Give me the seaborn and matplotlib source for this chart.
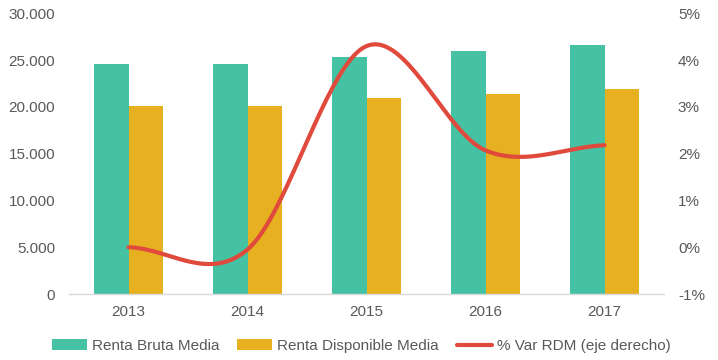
import numpy as np
import pandas as pd
import matplotlib
matplotlib.use("Agg")
import matplotlib.pyplot as plt
from matplotlib.ticker import FuncFormatter, FixedLocator
from matplotlib.patches import Patch
from matplotlib.lines import Line2D
import seaborn as sns

# datos
years = ["2013", "2014", "2015", "2016", "2017"]
renta_bruta = [24600, 24600, 25350, 25970, 26650]
renta_disponible = [20100, 20100, 20950, 21380, 21910]
var_rdm = [0.0, -0.05, 4.3, 2.07, 2.18]  # % (eje derecho)

series_names = ["Renta Bruta Media", "Renta Disponible Media"]
line_name = "% Var RDM (eje derecho)"

c_green = "#45C2A3"
c_yellow = "#E6B021"
c_red = "#E04A3C"
c_text = "#595959"

sns.set_theme(style="white")
plt.rcParams["font.family"] = ["Liberation Sans", "DejaVu Sans"]
plt.rcParams["font.size"] = 11

df = pd.DataFrame({
    "year": years * 2,
    "valor": renta_bruta + renta_disponible,
    "serie": [series_names[0]] * len(years) + [series_names[1]] * len(years),
})

fig = plt.figure(figsize=(7.18, 3.6), dpi=100)
ax = fig.add_axes([0.0961, 0.1833, 0.8287, 0.7797])

sns.barplot(data=df, x="year", y="valor", hue="serie", order=years,
            hue_order=series_names, palette=[c_green, c_yellow],
            width=0.58, gap=0, saturation=1, legend=False, linewidth=0,
            edgecolor="none", ax=ax)
ax.set_xlim(-0.5, len(years) - 0.5)
ax.set_ylim(0, 30000)
ax.yaxis.set_major_locator(FixedLocator(np.arange(0, 30001, 5000)))
ax.yaxis.set_major_formatter(FuncFormatter(lambda v, p: f"{int(v):,}".replace(",", ".")))
ax.set_xlabel("")
ax.set_ylabel("")
for s in ["top", "right", "left"]:
    ax.spines[s].set_visible(False)
ax.spines["bottom"].set_color("#D9D9D9")
ax.spines["bottom"].set_linewidth(1)
ax.tick_params(axis="both", length=0, colors=c_text, labelsize=11)
ax.tick_params(axis="y", pad=10)
ax.tick_params(axis="x", pad=8)

# eje derecho: linea suavizada (Catmull-Rom, como el suavizado de Excel)
ax2 = ax.twinx()
xs = np.arange(len(years), dtype=float)
ys = np.array(var_rdm, dtype=float)
pts_x, pts_y = [], []
for i in range(len(xs) - 1):
    y0 = ys[i - 1] if i > 0 else 2 * ys[i] - ys[i + 1]
    y3 = ys[i + 2] if i + 2 < len(ys) else 2 * ys[i + 1] - ys[i]
    m1 = (ys[i + 1] - y0) / 2
    m2 = (y3 - ys[i]) / 2
    t = np.linspace(0, 1, 40)
    h00 = 2 * t**3 - 3 * t**2 + 1
    h10 = t**3 - 2 * t**2 + t
    h01 = -2 * t**3 + 3 * t**2
    h11 = t**3 - t**2
    pts_x.extend(xs[i] + t)
    pts_y.extend(h00 * ys[i] + h10 * m1 + h01 * ys[i + 1] + h11 * m2)
sns.lineplot(x=pts_x, y=pts_y, color=c_red, linewidth=3, sort=False,
             solid_capstyle="round", ax=ax2)
ax2.set_ylim(-1, 5)
ax2.yaxis.set_major_locator(FixedLocator(np.arange(-1, 6, 1)))
ax2.yaxis.set_major_formatter(FuncFormatter(lambda v, p: f"{int(round(v))}%"))
for s in ax2.spines.values():
    s.set_visible(False)
ax2.tick_params(axis="y", length=0, colors=c_text, labelsize=11, pad=10)
ax2.set_xlim(-0.5, len(years) - 0.5)

handles = [
    Patch(facecolor=c_green, edgecolor="none", label=series_names[0]),
    Patch(facecolor=c_yellow, edgecolor="none", label=series_names[1]),
    Line2D([0], [0], color=c_red, linewidth=3, label=line_name),
]
leg = fig.legend(handles=handles, loc="center", bbox_to_anchor=(0.503, 0.039),
                 ncol=3, frameon=False, fontsize=11, handlelength=2.3,
                 handleheight=0.7, handletextpad=0.3, columnspacing=1.2)
for t in leg.get_texts():
    t.set_color(c_text)

fig.savefig("out.png", dpi=100)
